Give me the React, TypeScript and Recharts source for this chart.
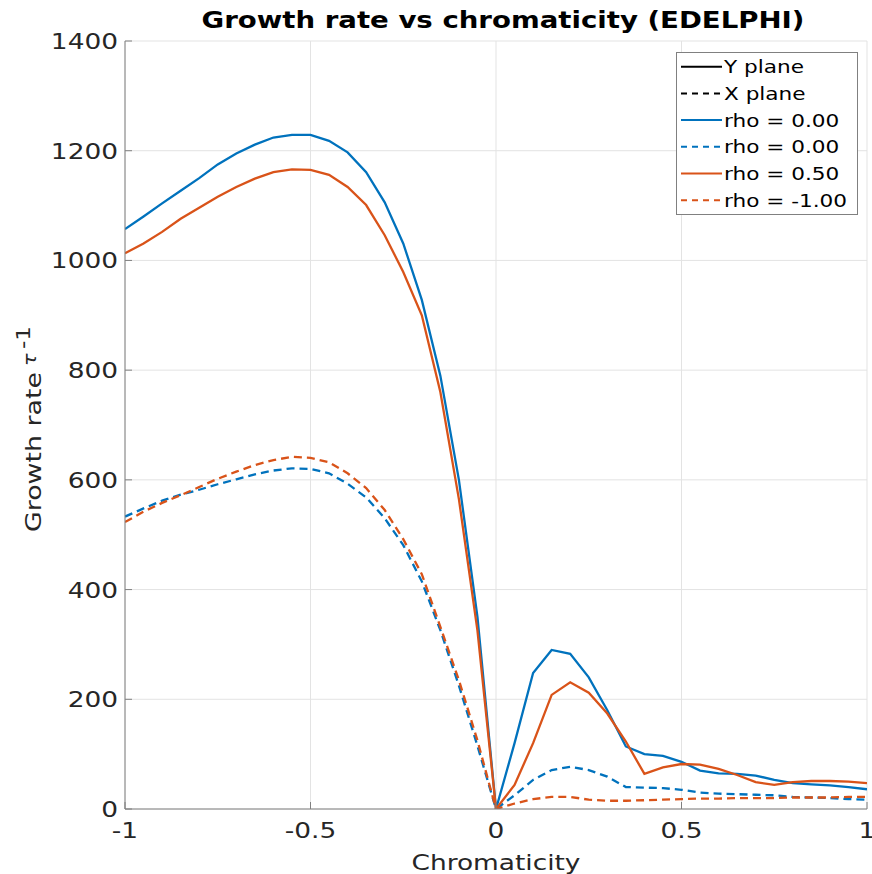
import React from 'react';
import { LineChart, Line, XAxis, YAxis, CartesianGrid, Legend, Customized } from 'recharts';

const chromaticity = [
  -1, -0.95, -0.9, -0.85, -0.8, -0.75, -0.7, -0.65, -0.6, -0.55, -0.5, -0.45, -0.4, -0.35, -0.3, -0.25, -0.2, -0.15, -0.1, -0.05,
  0, 0.05, 0.1, 0.15, 0.2, 0.25, 0.3, 0.35, 0.4, 0.45, 0.5, 0.55, 0.6, 0.65, 0.7, 0.75, 0.8, 0.85, 0.9, 0.95, 1,
];

// Y plane, rho = 0.00 (solid blue)
const yPlaneRho000 = [
  1057, 1080, 1104, 1127, 1150, 1175, 1195, 1211, 1224, 1229, 1229, 1218, 1197, 1161, 1106, 1031, 928, 790, 600, 350,
  0, 120, 248, 290, 283, 240, 180, 114, 100, 97, 86, 70, 65, 64, 61, 53, 47, 45, 43, 40, 36,
];

// X plane, rho = 0.00 (dashed blue)
const xPlaneRho000 = [
  533, 548, 562, 573, 582, 592, 601, 610, 617, 621, 620, 612, 593, 568, 530, 481, 415, 326, 225, 115,
  0, 25, 53, 71, 77, 71, 59, 40, 39, 38, 35, 30, 28, 27, 26, 25, 22, 21, 20, 18, 17,
];

// Y plane, rho = 0.50 (solid orange)
const yPlaneRho050 = [
  1013, 1031, 1052, 1076, 1096, 1116, 1134, 1149, 1161, 1166, 1165, 1156, 1134, 1101, 1046, 979, 900, 760, 565, 325,
  0, 44, 120, 208, 231, 212, 174, 123, 64, 76, 82, 81, 73, 62, 49, 44, 49, 51, 51, 50, 47,
];

// X plane, rho = -1.00 (dashed orange)
const xPlaneRhoM100 = [
  523, 542, 558, 572, 587, 602, 615, 627, 636, 642, 640, 632, 612, 585, 545, 492, 428, 332, 235, 125,
  0, 10, 18, 22, 22, 17, 15, 15, 16, 17, 18, 19, 19, 20, 20, 20, 21, 21, 21, 22, 22,
];

const xTicks = [-1, -0.5, 0, 0.5, 1];
const yTicks = [0, 200, 400, 600, 800, 1000, 1200, 1400];
const legendLabels = ['Y plane', 'X plane', 'rho = 0.00', 'rho = 0.00', 'rho = 0.50', 'rho = -1.00'];
const titleText = 'Growth rate vs chromaticity (EDELPHI)';
const xLabelText = 'Chromaticity';
const yLabelText = 'Growth rate';

const BLUE = '#0072BD';
const ORANGE = '#D95319';
const FONT = '"DejaVu Sans", sans-serif';
const SX = 1.2;
const DASH = '8 5';

const legendStyles = [
  { color: '#000000', dash: undefined },
  { color: '#000000', dash: '6 5' },
  { color: BLUE, dash: undefined },
  { color: BLUE, dash: '6 5' },
  { color: ORANGE, dash: undefined },
  { color: ORANGE, dash: '6 5' },
];

const data = chromaticity.map((c, i) => ({
  c,
  y0: yPlaneRho000[i],
  x0: xPlaneRho000[i],
  y05: yPlaneRho050[i],
  xm1: xPlaneRhoM100[i],
}));

const XTick = (p: any) => (
  <text
    transform={`translate(${p.x},${p.y}) scale(${SX},1)`}
    textAnchor="middle"
    dy={17}
    fontSize={22}
    fontFamily={FONT}
    fill="#262626"
  >
    {p.payload.value}
  </text>
);

const YTick = (p: any) => (
  <text
    transform={`translate(${p.x},${p.y}) scale(${SX},1)`}
    textAnchor="end"
    dy={8}
    fontSize={22}
    fontFamily={FONT}
    fill="#262626"
  >
    {p.payload.value}
  </text>
);

const YLabel = (props: any) => {
  const vb = props.viewBox || { x: 0, y: 41, width: 125, height: 768 };
  const x = vb.x + 41;
  const y = vb.y + vb.height / 2 + 107;
  const L = 1.22;
  return (
    <text
      transform={`translate(${x},${y}) rotate(-90) scale(${L},1)`}
      textAnchor="start"
      fontSize={22}
      fontFamily={FONT}
      fill="#262626"
    >
      <tspan x={0} y={0}>{yLabelText}</tspan>
      <tspan x={136} y={-5} fontStyle="italic" fontSize={17}>τ</tspan>
      <tspan x={150} y={-11} fontSize={19}>-1</tspan>
    </text>
  );
};

const XLabel = (props: any) => {
  const vb = props.viewBox || { x: 125, y: 809, width: 742, height: 65 };
  const x = vb.x + vb.width / 2;
  const y = vb.y + 61;
  return (
    <text
      transform={`translate(${x},${y}) scale(${SX},1)`}
      textAnchor="middle"
      fontSize={22}
      fontFamily={FONT}
      fill="#262626"
    >
      {xLabelText}
    </text>
  );
};

const Title = () => (
  <text
    transform={`translate(503,28) scale(${SX},1)`}
    textAnchor="middle"
    fontSize={23}
    fontWeight="bold"
    fontFamily={FONT}
    fill="#000000"
  >
    {titleText}
  </text>
);

const LegendBox = () => (
  <div
    style={{
      width: 180,
      height: 161,
      border: '1px solid #808080',
      background: '#ffffff',
      boxSizing: 'content-box',
    }}
  >
    <svg width={180} height={161} style={{ display: 'block' }}>
      {legendLabels.map((label, i) => {
        const cy = 13.7 + i * 26.7;
        const st = legendStyles[i];
        return (
          <g key={i}>
            <line x1={4} x2={45} y1={cy} y2={cy} stroke={st.color} strokeWidth={2} strokeDasharray={st.dash} />
            <text
              transform={`translate(47,${cy}) scale(${SX},1)`}
              dy={6.5}
              fontSize={18}
              fontFamily={FONT}
              fill="#000000"
            >
              {label}
            </text>
          </g>
        );
      })}
    </svg>
  </div>
);

export default function App() {
  return (
    <div style={{ position: 'absolute', left: 0, top: 0, width: 872, height: 874, background: '#ffffff' }}>
      <LineChart width={872} height={874} data={data} margin={{ top: 41, right: 5, bottom: 0, left: 0 }}>
        <CartesianGrid stroke="#e3e3e3" strokeWidth={1} />
        <XAxis
          type="number"
          dataKey="c"
          domain={[-1, 1]}
          ticks={xTicks}
          allowDataOverflow
          height={65}
          stroke="#808080"
          tickSize={-7}
          tickMargin={19}
          tick={<XTick />}
          label={(p: any) => <XLabel {...p} />}
        />
        <YAxis
          type="number"
          domain={[0, 1400]}
          ticks={yTicks}
          allowDataOverflow
          width={125}
          stroke="#808080"
          tickSize={-7}
          tickMargin={14}
          tick={<YTick />}
          label={(p: any) => <YLabel {...p} />}
        />
        <Line type="linear" dataKey="y0" stroke={BLUE} strokeWidth={2.3} dot={false} isAnimationActive={false} />
        <Line type="linear" dataKey="x0" stroke={BLUE} strokeWidth={2.3} strokeDasharray={DASH} dot={false} isAnimationActive={false} />
        <Line type="linear" dataKey="y05" stroke={ORANGE} strokeWidth={2.3} dot={false} isAnimationActive={false} />
        <Line type="linear" dataKey="xm1" stroke={ORANGE} strokeWidth={2.3} strokeDasharray={DASH} dot={false} isAnimationActive={false} />
        <Legend
          layout="vertical"
          align="center"
          verticalAlign="middle"
          content={() => <LegendBox />}
          wrapperStyle={{ position: 'absolute', left: 676, top: 52, width: 182, height: 163 }}
        />
        <Customized component={Title} />
      </LineChart>
    </div>
  );
}
